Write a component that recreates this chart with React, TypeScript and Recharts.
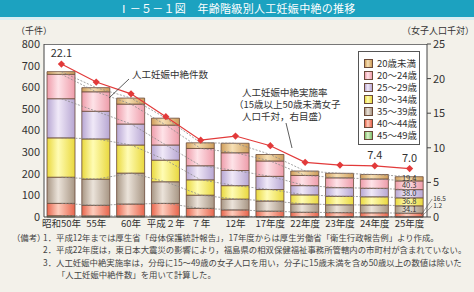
import React from 'react'
import { ComposedChart, Bar, Line, XAxis, YAxis, LabelList } from 'recharts'

const categories = ['昭和50年', '55年', '60年', '平成２年', '７年', '12年', '17年度', '22年度', '23年度', '24年度', '25年度']
// 年齢階級別（千件）
const under20 = [12, 19, 28, 32, 26, 44, 30, 20.4, 20.9, 20.7, 19.4]
const age20 = [113, 90, 92, 92, 80, 82, 71, 47.1, 45.5, 43.3, 40.3]
const age25 = [181, 128, 97, 70, 65, 70, 61, 42.7, 40.0, 39.1, 38.0]
const age30 = [182, 186, 130, 100, 71, 62, 53, 42.1, 39.2, 38.2, 36.8]
const age35 = [121, 121, 143, 100, 61, 50, 47, 38.6, 36.3, 35.9, 34.1]
const age40 = [57, 49, 55, 58, 37, 30, 25, 20.4, 18.9, 18.1, 16.5]
const age45 = [6, 5, 5, 5, 3, 3, 2, 1.3, 1.3, 1.3, 1.2]
// 実施率（女子人口千対）
const rate = [22.1, 19.5, 17.8, 14.5, 11.1, 11.7, 10.3, 7.9, 7.5, 7.4, 7.0]

const leftTicks = [0, 100, 200, 300, 400, 500, 600, 700, 800]
const rightTicks = [0, 5, 10, 15, 20, 25]

// bottom to top
const SERIES = [
  { key: 'a45', name: '45～49歳', values: age45, edge: '#7fbf6a', mid: '#dcf3cc' },
  { key: 'a40', name: '40～44歳', values: age40, edge: '#e8654c', mid: '#fdcdbd' },
  { key: 'a35', name: '35～39歳', values: age35, edge: '#a89684', mid: '#ebe3da' },
  { key: 'a30', name: '30～34歳', values: age30, edge: '#e9d83e', mid: '#fffcb4' },
  { key: 'a25', name: '25～29歳', values: age25, edge: '#b7a6d2', mid: '#f0e9f8' },
  { key: 'a20', name: '20～24歳', values: age20, edge: '#ee9caa', mid: '#fee3e8' },
  { key: 'u20', name: '20歳未満', values: under20, edge: '#cf9d5a', mid: '#f6e0b6' },
]

const data = categories.map((c, i) => {
  const row: Record<string, string | number> = { name: c, rate: rate[i] }
  let cum = 0
  SERIES.forEach(s => {
    row[s.key] = s.values[i]
    cum += s.values[i]
    row['c_' + s.key] = cum
  })
  return row
})

const LAST = categories.length - 1

const Diamond = (props: any) => {
  const { cx, cy } = props
  if (cx == null || cy == null) return null
  const r = 3.6
  return <path d={`M${cx},${cy - r}L${cx + r},${cy}L${cx},${cy + r}L${cx - r},${cy}Z`} fill="#e23a3a" />
}

const font = '"Noto Sans CJK JP", "Noto Sans", sans-serif'

export default function App() {
  return (
    <div style={{ position: 'absolute', left: 0, top: 0, width: 474, height: 292, background: '#f3f1ea', overflow: 'hidden', fontFamily: font, color: '#333' }}>
      <div style={{ position: 'absolute', left: 0, top: 0, width: 474, height: 17, background: '#1ca2c0', color: '#fff', fontSize: 11, lineHeight: '17px', textAlign: 'center', letterSpacing: 0.3 }}>
        Ⅰ－５－１図　年齢階級別人工妊娠中絶の推移
      </div>
      <div style={{ position: 'absolute', left: 0, top: 17, width: 474, height: 3, background: '#d9eef3' }} />
      <div style={{ position: 'absolute', left: 44, top: 44, width: 383, height: 173, background: '#fff', borderTop: '1px solid #777', boxSizing: 'border-box' }} />

      <div style={{ position: 'absolute', left: 16, top: 25, fontSize: 9, lineHeight: '12px', whiteSpace: 'nowrap' }}>（千件）</div>
      <div style={{ position: 'absolute', left: 402, top: 25, fontSize: 9, lineHeight: '12px', whiteSpace: 'nowrap' }}>（女子人口千対）</div>

      <div style={{ position: 'absolute', left: 0, top: 0 }}>
        <ComposedChart width={474} height={292} data={data} margin={{ top: 44, right: 0, left: 0, bottom: 55 }}>
          <defs>
            {SERIES.map(s => (
              <linearGradient key={s.key} id={'g_' + s.key} x1="0" y1="0" x2="1" y2="0">
                <stop offset="0%" stopColor={s.edge} />
                <stop offset="40%" stopColor={s.mid} />
                <stop offset="100%" stopColor={s.edge} />
              </linearGradient>
            ))}
          </defs>
          <XAxis dataKey="name" height={20} tickSize={2} tickMargin={1} tickLine={false} stroke="#444"
            tick={{ fontSize: 9.5, fill: '#333', fontFamily: font }} interval={0} />
          <YAxis yAxisId="left" width={44} domain={[0, 800]} ticks={leftTicks} tickSize={2} tickMargin={2} tickLine={false}
            stroke="#444" tick={{ fontSize: 11, fill: '#333', fontFamily: font }} />
          <YAxis yAxisId="right" orientation="right" width={47} domain={[0, 25]} ticks={rightTicks} tickSize={4} tickMargin={2}
            stroke="#444" tick={{ fontSize: 11, fill: '#333', fontFamily: font }} />

          {SERIES.map(s => (
            <Line key={'c_' + s.key} yAxisId="left" dataKey={'c_' + s.key} stroke="#8a8a8a" strokeWidth={0.8}
              strokeDasharray="2 1.5" dot={false} activeDot={false} isAnimationActive={false} legendType="none" />
          ))}

          {SERIES.map(s => (
            <Bar key={s.key} yAxisId="left" dataKey={s.key} name={s.name} stackId="a" barSize={28}
              fill={`url(#g_${s.key})`} stroke="#6a4a3a" strokeWidth={0.8} isAnimationActive={false}>
              <LabelList dataKey={s.key} content={(p: any) => {
                if (p.index !== LAST) return null
                const v = s.values[LAST].toFixed(1)
                const x = Number(p.x), y = Number(p.y), w = Number(p.width), h = Number(p.height)
                if (s.key === 'a40' || s.key === 'a45') {
                  const ty = s.key === 'a40' ? 201 : 208
                  return (
                    <g>
                      <line x1={x + w - 2} y1={y + h / 2} x2={x + w + 9} y2={ty - 2} stroke="#555" strokeWidth={0.6} />
                      <text x={x + w + 10} y={ty} fontSize={6.5} fill="#333" fontFamily={font}>{v}</text>
                    </g>
                  )
                }
                return <text x={x + w / 2} y={y + h / 2 + 2.6} textAnchor="middle" fontSize={7.5} fill="#333" fontFamily={font}>{v}</text>
              }} />
            </Bar>
          ))}

          <Line yAxisId="right" dataKey="rate" stroke="#e23a3a" strokeWidth={1.2} dot={<Diamond />} activeDot={false} isAnimationActive={false}>
            <LabelList dataKey="rate" content={(p: any) => {
              if (![0, 9, 10].includes(p.index)) return null
              return <text x={Number(p.x)} y={Number(p.y) - 7} textAnchor="middle" fontSize={11} fill="#333" fontFamily={font}>{rate[p.index].toFixed(1)}</text>
            }} />
          </Line>
        </ComposedChart>
      </div>

      <svg width={474} height={292} style={{ position: 'absolute', left: 0, top: 0, pointerEvents: 'none' }}>
        <line x1={129} y1={79} x2={109} y2={98} stroke="#333" strokeWidth={0.8} />
        <line x1={286} y1={123} x2={292} y2={148} stroke="#333" strokeWidth={0.8} />
      </svg>

      <div style={{ position: 'absolute', left: 132, top: 67, fontSize: 9.5, whiteSpace: 'nowrap' }}>人工妊娠中絶件数</div>
      <div style={{ position: 'absolute', left: 234, top: 86, fontSize: 9.5, lineHeight: '12px', whiteSpace: 'nowrap' }}>
        <div style={{ paddingLeft: 8 }}>人工妊娠中絶実施率</div>
        <div>（15歳以上50歳未満女子</div>
        <div style={{ paddingLeft: 8 }}>人口千対，右目盛）</div>
      </div>

      <div style={{ position: 'absolute', left: 358, top: 51, width: 62, height: 94, background: '#fff', border: '1px solid #555', boxSizing: 'border-box', padding: '5px 0 0 5px' }}>
        {SERIES.slice().reverse().map(s => (
          <div key={s.key} style={{ display: 'flex', alignItems: 'center', height: 12, fontSize: 9.5, whiteSpace: 'nowrap' }}>
            <span style={{ display: 'inline-block', width: 7, height: 7, marginRight: 4, border: '1px solid #6a4a3a', background: `linear-gradient(to right, ${s.edge}, ${s.mid} 40%, ${s.edge})` }} />
            {s.name}
          </div>
        ))}
      </div>

      <div style={{ position: 'absolute', left: 12, top: 231, fontSize: 8.4, lineHeight: '12.4px', color: '#444', whiteSpace: 'nowrap' }}>
        <div><span style={{ display: 'inline-block', width: 31 }}>（備考）</span>1．平成12年までは厚生省「母体保護統計報告」，17年度からは厚生労働省「衛生行政報告例」より作成。</div>
        <div style={{ paddingLeft: 31 }}>2．平成22年度は，東日本大震災の影響により，福島県の相双保健福祉事務所管轄内の市町村が含まれていない。</div>
        <div style={{ paddingLeft: 31 }}>3．人工妊娠中絶実施率は，分母に15～49歳の女子人口を用い，分子に15歳未満を含め50歳以上の数値は除いた</div>
        <div style={{ paddingLeft: 45 }}>「人工妊娠中絶件数」を用いて計算した。</div>
      </div>
    </div>
  )
}
